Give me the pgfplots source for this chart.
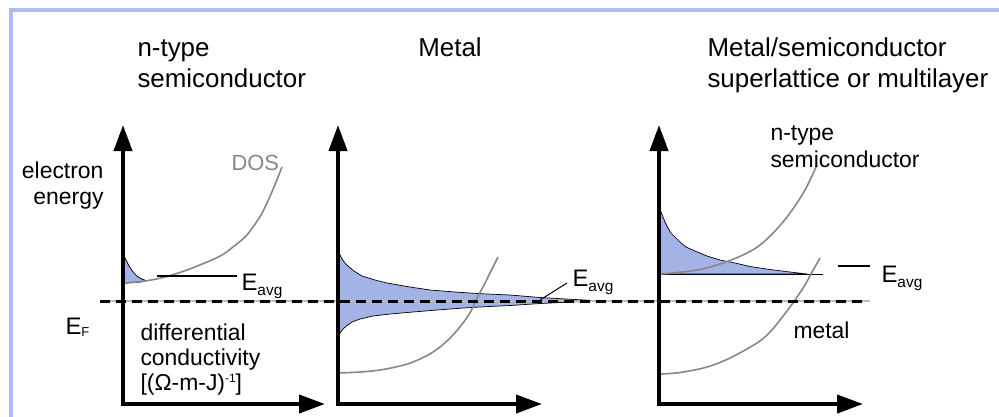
\documentclass[border=0pt]{standalone}
\usepackage{fontspec}
\setmainfont{Liberation Sans}
\usepackage{pgfplots}
\pgfplotsset{compat=1.18}
\usetikzlibrary{arrows.meta}

\definecolor{frameblue}{RGB}{176,186,248}
\definecolor{bandblue}{RGB}{164,179,230}
\definecolor{dosgray}{RGB}{135,135,135}

% text helpers
\newcommand{\ttl}{\fontsize{26}{30}\selectfont}
\newcommand{\lbl}{\fontsize{23}{26}\selectfont}
\newcommand{\Eavg}{\fontsize{24}{26}\selectfont E\raisebox{-5bp}{\fontsize{15.5}{16}\selectfont avg}}

\begin{document}
\begin{tikzpicture}
\begin{axis}[
  name=ax, at={(0,0)}, anchor=south west,
  width=999bp, height=416bp, scale only axis,
  xmin=0, xmax=999, ymin=0, ymax=416,
  hide axis, clip=false,
  every node/.style={inner sep=0pt, outer sep=0pt},
  band/.style={fill=bandblue, draw=black, line width=0.7bp},
  dos/.style={dosgray, line width=1.6bp, smooth, tension=0.55},
  energyaxis/.style={black, line width=4bp, line join=miter,
    {Triangle[length=26bp,width=18bp]}-{Triangle[length=26bp,width=18bp]}},
]

% slide frame
\addplot[frameblue, line width=4bp] coordinates {(10.5,-2) (10.5,405.5) (1001,405.5)};

% ---------- n-type semiconductor ----------
\addplot[band] coordinates {
  (123,166) (124,162) (125,158) (127,154) (129,150) (131,147) (134,143)
  (137,140) (140,138) (143,136.5) (146,135.5) (142,134.2) (136,133.5) (129,133.1) (123,133)
} -- cycle;
\addplot[dos] coordinates {
  (123,133) (145,135) (165,139) (187,146) (207,154) (222,161) (233,169)
  (245,179) (253,189) (261,201) (267,213) (274,229) (282,249)
};
\addplot[black, line width=2bp] coordinates {(157,140) (237,140)};

% ---------- metal ----------
\addplot[band] coordinates {
  (338,166) (340,161) (342,157) (345,153) (348,150) (354,145) (362,140)
  (375,136) (387,133) (410,129) (430,126) (455,124) (477,122.5) (510,121)
  (540,118.5) (570,116.8) (603,115)
  (570,114) (540,112.5) (510,110.5) (485,109.3) (463,108) (437,106) (413,104)
  (390,102) (373,100) (360,97) (352,94) (347,90.5) (343,87) (340,83) (338,79)
} -- cycle;
\addplot[dos] coordinates {
  (338,43) (360,44) (380,46) (400,50) (413,54) (428,61) (440,69) (452,80)
  (463,93) (471,105) (477,118) (483,129) (488,139) (493,149) (498,159)
};
\addplot[black, line width=1bp] coordinates {(540,116) (567,133)};

% ---------- metal/semiconductor multilayer ----------
\addplot[band] coordinates {
  (659,213) (660,208) (661,204) (663,199) (665,194) (668,188) (671,183)
  (675,179) (680,174) (686,169) (695,165) (707,160) (720,156) (735,153)
  (750,149.5) (770,146.5) (790,144) (807,142) (659,142)
} -- cycle;
\addplot[black, line width=1bp] coordinates {(659,142) (823,142)};
\addplot[dos] coordinates {
  (660,142) (673,143) (700,146.5) (723,153) (745,162) (760,171) (775,185)
  (790,203) (805,226) (817,251)
};
\addplot[dos] coordinates {
  (660,42) (680,43.5) (707,49) (730,58) (757,73) (770,84) (780,96)
  (790,109) (797,119) (805,131) (812,144) (820,158)
};
\addplot[black, line width=2bp] coordinates {(838,150) (870,150)};

% Fermi level
\addplot[gray!55, line width=1.2bp] coordinates {(100,115) (870,115)};
\addplot[black, line width=3bp, dash pattern=on 10bp off 6bp] coordinates {(100,115) (862,115)};

% energy / conductivity axes
\addplot[energyaxis] coordinates {(123,291) (123,12) (325,12)};
\addplot[energyaxis] coordinates {(338,291) (338,12) (542,12)};
\addplot[energyaxis] coordinates {(659,291) (659,12) (863,12)};

% titles
\node[anchor=base west] at (axis cs:134,359) {\ttl n-type};
\node[anchor=base west] at (axis cs:134,329) {\ttl semiconductor};
\node[anchor=base] at (axis cs:450,359) {\ttl Metal};
\node[anchor=base west] at (axis cs:704,359) {\ttl Metal/semiconductor};
\node[anchor=base west] at (axis cs:704,329) {\ttl superlattice or multilayer};

% labels
\node[anchor=base east] at (axis cs:107,238) {\lbl electron};
\node[anchor=base east] at (axis cs:107,212) {\lbl energy};
\node[anchor=base west, text=dosgray] at (axis cs:228,246) {\fontsize{22}{24}\selectfont DOS};
\node[anchor=base west] at (axis cs:62,82) {\fontsize{24}{26}\selectfont E\raisebox{-2bp}{\fontsize{13}{14}\selectfont F}};
\node[anchor=base west] at (axis cs:137,76) {\lbl differential};
\node[anchor=base west] at (axis cs:137,51) {\lbl conductivity};
\node[anchor=base west] at (axis cs:137,26) {\lbl [(Ω-m-J)\raisebox{8bp}{\fontsize{12}{13}\selectfont -1}]};
\node[anchor=base west] at (axis cs:238,126) {\Eavg};
\node[anchor=base west] at (axis cs:569,130) {\Eavg};
\node[anchor=base west] at (axis cs:878,134) {\Eavg};
\node[anchor=base west] at (axis cs:767,276) {\lbl n-type};
\node[anchor=base west] at (axis cs:767,249) {\lbl semiconductor};
\node[anchor=base west] at (axis cs:790,78) {\lbl metal};
\end{axis}
\pgfresetboundingbox
\path (ax.south west) rectangle (ax.north east);
\end{tikzpicture}
\end{document}
